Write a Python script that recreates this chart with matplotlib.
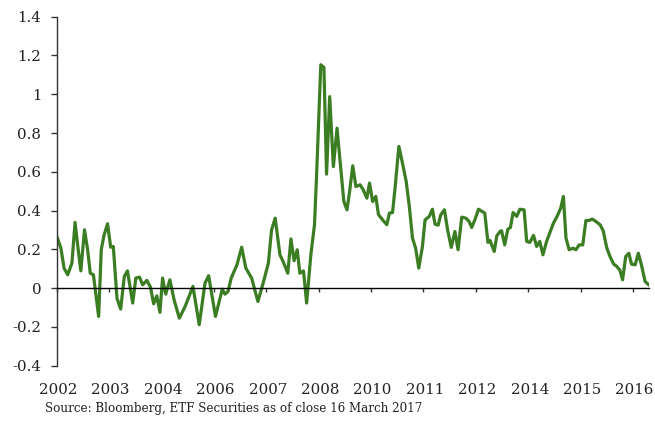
import matplotlib.pyplot as plt
import matplotlib.transforms as mtransforms

# position along the category axis (1 unit = one labelled tick) and value
pos = [0.01, 0.08, 0.14, 0.21, 0.29, 0.35, 0.41, 0.46, 0.53, 0.59, 0.64, 0.70,
       0.80, 0.85, 0.90, 0.97, 1.03, 1.08, 1.15, 1.22, 1.29, 1.35, 1.45, 1.51,
       1.58, 1.64, 1.72, 1.79, 1.85, 1.91, 1.97,
       2.02, 2.08, 2.16, 2.24, 2.34, 2.45, 2.60, 2.72, 2.83, 2.90, 3.03, 3.16,
       3.21, 3.27, 3.33, 3.44, 3.53, 3.61, 3.72, 3.84, 3.94,
       4.04, 4.10, 4.17, 4.26, 4.32, 4.41, 4.47, 4.53, 4.59, 4.64, 4.71, 4.77,
       4.85, 4.92, 4.96, 5.04, 5.10, 5.15, 5.21, 5.28, 5.35, 5.41, 5.48, 5.54,
       5.59, 5.65, 5.71, 5.79, 5.85, 5.92, 5.97, 6.03, 6.09, 6.14, 6.22, 6.30,
       6.35, 6.41, 6.46, 6.53, 6.58, 6.67, 6.73, 6.79, 6.85, 6.91, 6.98, 7.03,
       7.11, 7.17, 7.22, 7.28, 7.33, 7.40, 7.46, 7.53, 7.60, 7.66, 7.73, 7.81,
       7.87, 7.92, 7.98, 8.05, 8.12, 8.17, 8.23, 8.27, 8.35, 8.40, 8.46, 8.49,
       8.55, 8.61, 8.66, 8.71, 8.78, 8.84, 8.92, 8.97, 9.03, 9.10, 9.16, 9.22,
       9.28, 9.35, 9.41, 9.48, 9.55, 9.62, 9.67, 9.72, 9.78, 9.85, 9.91, 9.97,
       10.04, 10.10, 10.16, 10.22, 10.29, 10.37, 10.43, 10.50, 10.56, 10.63,
       10.69, 10.75, 10.80, 10.86, 10.92, 10.97, 11.04, 11.10, 11.16, 11.23,
       11.30]
value = [0.261, 0.206, 0.103, 0.069, 0.129, 0.339, 0.198, 0.089, 0.301, 0.198,
         0.077, 0.069, -0.146, 0.198, 0.270, 0.332, 0.211, 0.215, -0.052,
         -0.108, 0.060, 0.089, -0.077, 0.052, 0.057, 0.017, 0.040, 0.005,
         -0.081, -0.040, -0.125,
         0.052, -0.031, 0.043, -0.06, -0.155, -0.095, 0.009, -0.189, 0.026,
         0.064, -0.146, -0.005, -0.031, -0.017, 0.052, 0.12, 0.211, 0.103,
         0.052, -0.069, 0.026,
         0.129, 0.30, 0.361, 0.172, 0.138, 0.077, 0.254, 0.141, 0.198, 0.077,
         0.089, -0.077, 0.172, 0.327, 0.584, 1.152, 1.138, 0.588, 0.988, 0.627,
         0.825, 0.653, 0.447, 0.404, 0.499, 0.631, 0.524, 0.533, 0.507, 0.464,
         0.542, 0.447, 0.473, 0.38, 0.352, 0.327, 0.387, 0.39, 0.524, 0.731,
         0.67, 0.55, 0.421, 0.258, 0.206, 0.103, 0.215, 0.352, 0.37, 0.407,
         0.33, 0.325, 0.378, 0.404, 0.301, 0.21, 0.292, 0.198, 0.366, 0.361,
         0.344, 0.313, 0.352, 0.407, 0.395, 0.387, 0.236, 0.246, 0.189, 0.27,
         0.292, 0.296, 0.223, 0.304, 0.313, 0.39, 0.37, 0.407, 0.404, 0.241,
         0.236, 0.272, 0.215, 0.241, 0.172, 0.241, 0.284, 0.335, 0.37, 0.413,
         0.473, 0.258, 0.198, 0.206, 0.198, 0.223, 0.223, 0.349, 0.349, 0.356,
         0.344, 0.327, 0.296, 0.206, 0.163, 0.124, 0.112, 0.091, 0.043, 0.163,
         0.18, 0.124, 0.12, 0.18, 0.12, 0.034, 0.017]

year_labels = ["2002", "2003", "2004", "2006", "2007", "2008",
               "2010", "2011", "2012", "2014", "2015", "2016"]
y_ticks = [-0.4, -0.2, 0, 0.2, 0.4, 0.6, 0.8, 1, 1.2, 1.4]

plt.rcParams["font.family"] = ["DejaVu Serif"]
txt = "#222222"

fig = plt.figure(figsize=(6.55, 4.23), dpi=100)
ax = fig.add_axes([0.0866, 0.1355, 0.9047, 0.825])

ax.plot(pos, value, color="#3b7d23", lw=2.3, solid_joinstyle="round")

ax.set_xlim(0, 11.31)
ax.set_ylim(-0.4, 1.4)

for s in ["top", "right"]:
    ax.spines[s].set_visible(False)
ax.spines["left"].set_color("#333333")
ax.spines["left"].set_linewidth(1.0)
ax.spines["bottom"].set_position(("data", 0))
ax.spines["bottom"].set_color("black")
ax.spines["bottom"].set_linewidth(1.0)

ax.set_yticks(y_ticks)
ax.set_yticklabels([f"{v:g}" for v in y_ticks], fontsize=10.8, color=txt)
ax.tick_params(axis="y", direction="out", length=4, width=1, color="#333333", pad=7)

ax.set_xticks(range(len(year_labels)))
ax.set_xticklabels([])
ax.tick_params(axis="x", direction="out", length=3, width=1, color="#333333")

# year labels sit at the bottom of the plot, not under the zero line
trans = mtransforms.blended_transform_factory(ax.transData, fig.transFigure)
for i, lab in enumerate(year_labels):
    ax.text(i + 0.03, 0.077, lab, transform=trans, ha="center", va="center",
            fontsize=10.8, color=txt)

fig.text(0.069, 0.018, "Source: Bloomberg, ETF Securities as of close 16 March 2017",
         fontsize=8.6, color=txt, ha="left", va="bottom")

fig.savefig("out.png", dpi=100)
